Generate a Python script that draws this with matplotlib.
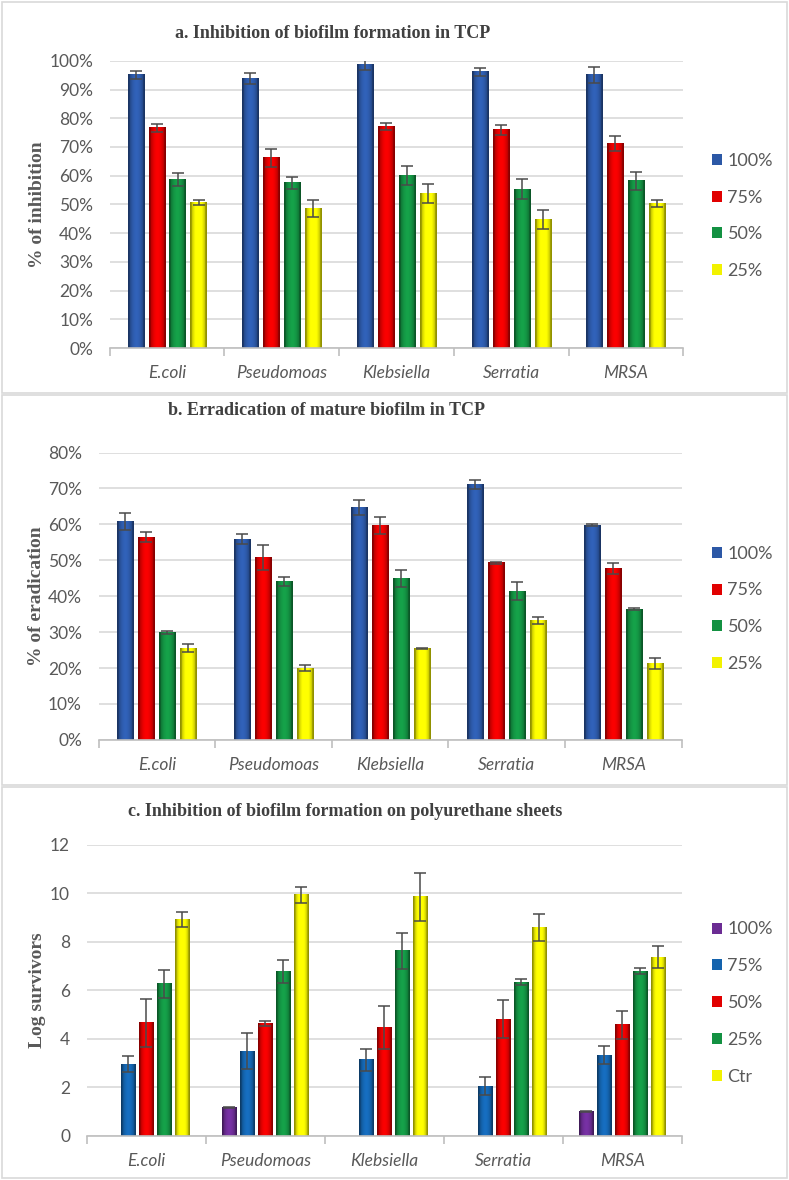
import numpy as np
import matplotlib.pyplot as plt
from matplotlib.patches import Rectangle
from matplotlib.colors import to_rgb

# data
bacteria = ['E.coli', 'Pseudomoas', 'Klebsiella', 'Serratia', 'MRSA']

# a. inhibition of biofilm formation in TCP (%)
conc_ab = ['100%', '75%', '50%', '25%']
inhib_100 = [95.1, 93.7, 98.5, 96.2, 95.1]
inhib_75 = [76.6, 66.2, 77.1, 75.9, 71.1]
inhib_50 = [58.7, 57.5, 60.1, 55.3, 58.2]
inhib_25 = [50.7, 48.5, 53.7, 44.8, 50.2]
inhib_100_err = [1.5, 1.9, 1.6, 1.4, 2.8]
inhib_75_err = [1.5, 3.1, 1.2, 1.8, 2.6]
inhib_50_err = [2.2, 2.1, 3.4, 3.5, 3.1]
inhib_25_err = [0.9, 3.0, 3.3, 3.2, 1.2]

# b. erradication of mature biofilm in TCP (%)
erad_100 = [60.9, 55.8, 64.7, 71.1, 59.8]
erad_75 = [56.5, 50.8, 59.7, 49.3, 47.7]
erad_50 = [30.0, 44.1, 44.9, 41.4, 36.4]
erad_25 = [25.6, 20.0, 25.4, 33.3, 21.3]
erad_100_err = [2.4, 1.4, 2.0, 1.2, 0.2]
erad_75_err = [1.3, 3.4, 2.4, 0.2, 1.5]
erad_50_err = [0.4, 1.3, 2.3, 2.5, 0.3]
erad_25_err = [1.1, 0.8, 0.2, 1.0, 1.5]

# c. log survivors on polyurethane sheets
conc_c = ['100%', '75%', '50%', '25%', 'Ctr']
log_100 = [0, 1.18, 0, 0, 0.99]
log_75 = [2.96, 3.49, 3.15, 2.06, 3.33]
log_50 = [4.67, 4.65, 4.47, 4.82, 4.58]
log_25 = [6.27, 6.78, 7.64, 6.34, 6.80]
log_ctr = [8.92, 9.95, 9.87, 8.60, 7.38]
log_100_err = [0, 0.02, 0, 0, 0.02]
log_75_err = [0.34, 0.74, 0.45, 0.36, 0.38]
log_50_err = [0.99, 0.11, 0.88, 0.79, 0.59]
log_25_err = [0.58, 0.46, 0.74, 0.13, 0.11]
log_ctr_err = [0.32, 0.33, 0.99, 0.57, 0.47]

col_ab = ['#2C58A6', '#E10000', '#139142', '#F2F200']
col_c = ['#6B2C93', '#1463AD', '#E10000', '#139142', '#F2F200']

tick_font = ['Lato', 'DejaVu Sans']
title_font = ['Liberation Serif', 'DejaVu Serif']
grey_txt = '#595959'

fig = plt.figure(figsize=(7.89, 11.80), dpi=100)

# panel frames
for y0, y1 in [(0.667, 0.998), (0.335, 0.665), (0.002, 0.333)]:
    fig.patches.append(Rectangle((0.003, y0), 0.994, y1 - y0, transform=fig.transFigure,
                                 fill=False, edgecolor='#D9D9D9', lw=1.2))


def shade_bar(ax, p, color):
    # fake the excel bevel: dark edges, light middle
    x, w, h = p.get_x(), p.get_width(), p.get_height()
    if h <= 0:
        return
    base = np.array(to_rgb(color))
    t = np.linspace(-1, 1, 40)
    f = 1.12 - 0.5 * t ** 2
    f[:4] = 0.6
    f[-4:] = 0.6
    img = np.clip(base[None, :] * f[:, None], 0, 1)[None, :, :]
    ax.imshow(img, extent=[x, x + w, 0, h], aspect='auto', interpolation='bilinear', zorder=2.5)


def panel(rect, series, errs, colors, labels, pitch, width, ymax, ystep, pct, ylabel, title,
          title_xy, leg_y, ylab_x):
    ax = fig.add_axes(rect)
    x = np.arange(len(bacteria))
    n = len(series)
    for i in range(n):
        off = (i - (n - 1) / 2) * pitch
        bars = ax.bar(x + off, series[i], width, color=colors[i], zorder=2, label=labels[i])
        for p in bars:
            shade_bar(ax, p, colors[i])
        vals = np.array(series[i])
        e = np.array(errs[i])
        m = vals > 0
        ax.errorbar((x + off)[m], vals[m], yerr=e[m], fmt='none', ecolor='#4A4A4A',
                    elinewidth=1.1, capsize=4, capthick=1.1, zorder=3)
    ax.set_xlim(-0.5, len(bacteria) - 0.5)
    ax.set_ylim(0, ymax)
    yt = np.arange(0, ymax + ystep / 2, ystep)
    ax.set_yticks(yt)
    if pct:
        ax.set_yticklabels(['%d%%' % v for v in yt])
    ax.grid(axis='y', color='#D9D9D9', lw=1.2, zorder=0)
    ax.set_axisbelow(True)
    for s in ['top', 'right', 'left']:
        ax.spines[s].set_visible(False)
    ax.spines['bottom'].set_color('#BFBFBF')
    ax.spines['bottom'].set_linewidth(1.2)
    ax.set_xticks(x)
    ax.set_xticklabels(bacteria, style='italic', family=tick_font, fontsize=12.5, color=grey_txt)
    ax.set_xticks(np.arange(-0.5, len(bacteria)), minor=True)
    ax.tick_params(axis='x', which='major', length=0, pad=12)
    ax.tick_params(axis='x', which='minor', length=6, color='#BFBFBF', width=1.2)
    ax.tick_params(axis='y', length=0, pad=12)
    for t in ax.get_yticklabels():
        t.set_family(tick_font)
        t.set_fontsize(12.5)
        t.set_color(grey_txt)
    fig.text(ylab_x, rect[1] + rect[3] / 2, ylabel, family=title_font, fontweight='bold',
             fontsize=14, color=grey_txt, rotation=90, ha='center', va='center')
    fig.text(title_xy[0], title_xy[1], title, family=title_font,
             fontweight='bold', fontsize=13, color='#404040', ha='center', va='center')
    h, l = ax.get_legend_handles_labels()
    fig.legend(h, l, loc='center left', bbox_to_anchor=(0.882, leg_y), frameon=False,
               prop={'family': tick_font, 'size': 13}, labelcolor=grey_txt,
               handlelength=0.55, handleheight=0.55, handletextpad=0.3, labelspacing=1.15)
    return ax


panel([0.139, 0.705, 0.727, 0.2435],
      [inhib_100, inhib_75, inhib_50, inhib_25],
      [inhib_100_err, inhib_75_err, inhib_50_err, inhib_25_err],
      col_ab, conc_ab, 0.183, 0.14, 100, 10, True, '% of inhibition',
      'a. Inhibition of biofilm formation in TCP', (0.421, 0.972), 0.817, 0.047)

panel([0.125, 0.373, 0.739, 0.2435],
      [erad_100, erad_75, erad_50, erad_25],
      [erad_100_err, erad_75_err, erad_50_err, erad_25_err],
      col_ab, conc_ab, 0.18, 0.138, 80, 10, True, '% of eradication',
      'b. Erradication of mature biofilm in TCP', (0.414, 0.652), 0.484, 0.046)

panel([0.110, 0.0373, 0.754, 0.2466],
      [log_100, log_75, log_50, log_25, log_ctr],
      [log_100_err, log_75_err, log_50_err, log_25_err, log_ctr_err],
      col_c, conc_c, 0.152, 0.118, 12, 2, False, 'Log survivors',
      'c. Inhibition of biofilm formation on polyurethane sheets', (0.437, 0.312), 0.150, 0.047)

fig.savefig('out.png', dpi=100)
